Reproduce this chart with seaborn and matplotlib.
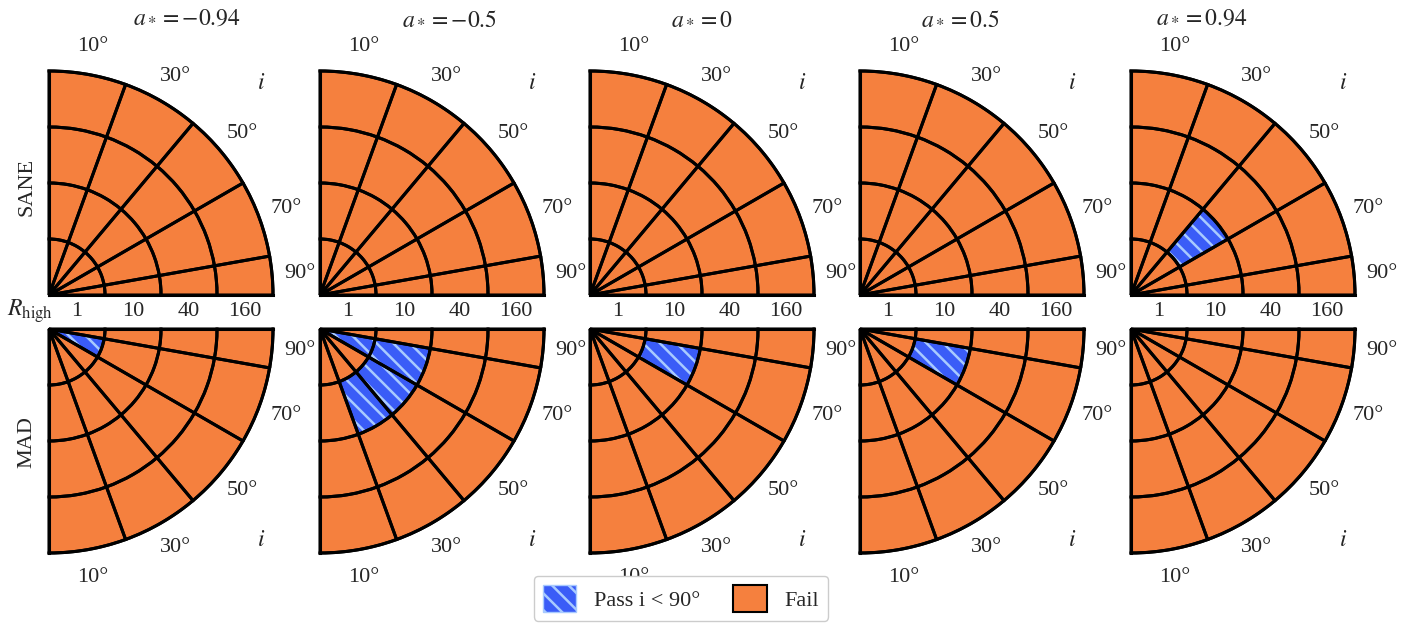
import numpy as np
import pandas as pd
import matplotlib
matplotlib.use('Agg')
import matplotlib.pyplot as plt
from matplotlib.patches import Patch
import seaborn as sns

# data
spins = [-0.94, -0.5, 0, 0.5, 0.94]
spin_labels = ['-0.94', '-0.5', '0', '0.5', '0.94']
methods = ['SANE', 'MAD']
inclinations = [10, 30, 50, 70, 90]
r_high = [1, 10, 40, 160]

# cells that pass: (spin, R_high, inclination)
sane_pass = [(0.94, 10, 50)]
mad_pass = [(-0.94, 1, 70),
            (-0.5, 1, 70), (-0.5, 10, 70), (-0.5, 10, 50), (-0.5, 10, 30),
            (0, 10, 70),
            (0.5, 10, 70)]

ORANGE = '#F5803E'
BLUE = '#3A5CF7'
HATCH = '#A8CAFF'


def build_table():
    rows = []
    passed = {'SANE': set(sane_pass), 'MAD': set(mad_pass)}
    for m in methods:
        for a in spins:
            for inc in inclinations:
                for r in r_high:
                    rows.append({'method': m, 'spin': a, 'inc': inc, 'r_high': r,
                                 'pass': (a, r, inc) in passed[m]})
    return pd.DataFrame(rows)


def draw_panel(ax, cells, flip):
    if flip:
        ax.set_thetamin(-90)
        ax.set_thetamax(0)
    else:
        ax.set_thetamin(0)
        ax.set_thetamax(90)
    ax.set_ylim(0, len(r_high))

    for _, c in cells.iterrows():
        lo, hi = max(c['inc'] - 10, 0), min(c['inc'] + 10, 90)
        t0, t1 = 90 - hi, 90 - lo
        if flip:
            t0, t1 = -t1, -t0
        th = np.deg2rad((t0 + t1) / 2)
        w = np.deg2rad(t1 - t0)
        j = r_high.index(c['r_high'])
        if c['pass']:
            ax.bar(th, 1, width=w, bottom=j, color=BLUE, lw=0, zorder=1)
            ax.bar(th, 1, width=w, bottom=j, color='none', edgecolor=HATCH,
                   hatch='\\\\', lw=0, zorder=2)
        else:
            ax.bar(th, 1, width=w, bottom=j, color=ORANGE, lw=0, zorder=1)
        ax.bar(th, 1, width=w, bottom=j, color='none', edgecolor='black',
               lw=2.2, zorder=3, clip_on=False)

    # inclination labels
    for inc in inclinations:
        lo, hi = max(inc - 10, 0), min(inc + 10, 90)
        t = 90 - (lo + hi) / 2
        if flip:
            t = -t
        ax.text(np.deg2rad(t), 4.5, f'{inc}°', ha='center', va='center', fontsize=16)
    ax.text(np.deg2rad(-45 if flip else 45), 5.35, '$i$', ha='center', va='center',
            fontsize=17)

    ax.set_xticks([])
    ax.set_yticks([])
    ax.grid(False)
    for s in ax.spines.values():
        s.set_color('black')
        s.set_linewidth(2.2)
    ax.set_facecolor('none')


def main():
    df = build_table()

    sns.set_theme(style='white')
    plt.rcParams['font.family'] = ['Liberation Serif', 'DejaVu Serif']
    plt.rcParams['mathtext.fontset'] = 'stix'
    plt.rcParams['hatch.linewidth'] = 1.8

    W, H = 1422, 632
    fig = plt.figure(figsize=(W / 100, H / 100), dpi=100)

    x_orig = [49, 320, 590, 860, 1131]
    title_x = [187, 450, 702, 960, 1202]
    R = 224
    row_top = {'SANE': 71, 'MAD': 329}

    for col, a in enumerate(spins):
        for m in methods:
            rect = [x_orig[col] / W, 1 - (row_top[m] + R) / H, R / W, R / H]
            ax = fig.add_axes(rect, projection='polar')
            cells = df[(df['method'] == m) & (df['spin'] == a)]
            draw_panel(ax, cells, flip=(m == 'MAD'))
            if m == 'SANE':
                for j, r in enumerate(r_high):
                    ax.annotate(str(r), xy=(0, j + 0.5), xytext=(0, -12),
                                textcoords='offset points', ha='center',
                                va='center', fontsize=16)
        fig.text(title_x[col] / W, 1 - 18 / H, f'$a_* = {spin_labels[col]}$',
                 ha='center', va='center', fontsize=17)

    fig.text(27 / W, 1 - 187 / H, 'SANE', rotation=90, ha='center', va='center', fontsize=16)
    fig.text(27 / W, 1 - 442 / H, 'MAD', rotation=90, ha='center', va='center', fontsize=16)
    fig.text(30 / W, 1 - 311 / H, r'$R_{\mathrm{high}}$', ha='center', va='center', fontsize=17)

    handles = [Patch(facecolor=BLUE, edgecolor=HATCH, hatch='\\\\', label='Pass i < 90°'),
               Patch(facecolor=ORANGE, edgecolor='black', lw=1.5, label='Fail')]
    fig.legend(handles=handles, loc='lower center', bbox_to_anchor=(681 / W, 0.0),
               ncol=2, fontsize=16, handlelength=1.5, handleheight=1.5,
               frameon=True, edgecolor='#cccccc', framealpha=1, columnspacing=1.5)

    fig.savefig('out.png', dpi=100)
    plt.close(fig)


if __name__ == '__main__':
    main()
